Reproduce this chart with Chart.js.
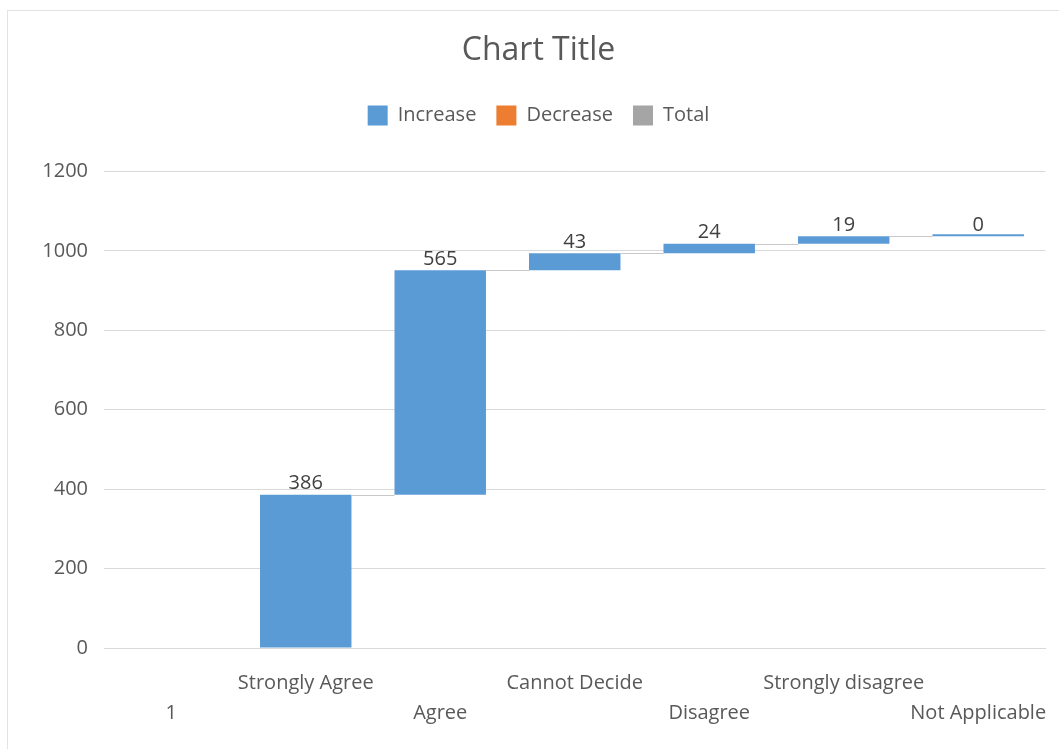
<!DOCTYPE html>
<html>
<head>
<meta charset="utf-8">
<script src="https://cdn.jsdelivr.net/npm/chart.js@4.4.1/dist/chart.umd.min.js"></script>
<style>
  html, body { margin: 0; padding: 0; background: #fff; }
  .frame { position: absolute; left: 7px; top: 10px; width: 1052px; height: 739px;
           border-left: 1px solid #e3e3e3; border-top: 1px solid #e3e3e3; }
  canvas { position: absolute; left: 0; top: 0; }
</style>
</head>
<body>
<div class="frame"></div>
<canvas id="chart" width="1059" height="749"></canvas>
<script>
// waterfall data
const categories = ['1', 'Strongly Agree', 'Agree', 'Cannot Decide', 'Disagree', 'Strongly disagree', 'Not Applicable'];
const increases = [null, 386, 565, 43, 24, 19, 0];
const yTicks = [0, 200, 400, 600, 800, 1000, 1200];

const BLUE = '#5b9bd5';
const ORANGE = '#ed7d31';
const GREY = '#a5a5a5';
const TEXT = '#595959';
const FONT = "'Open Sans', sans-serif";

// floating bars from running total
let running = 0;
const floating = increases.map(v => {
  if (v === null) return null;
  const start = running;
  running += v;
  return [start, running];
});

const waterfallExtras = {
  id: 'waterfallExtras',
  beforeInit(chart) {
    // extra gap under the legend, like excel
    const fit = chart.legend.fit;
    chart.legend.fit = function () {
      fit.call(this);
      this.height += 36;
    };
  },
  afterDatasetsDraw(chart) {
    const ctx = chart.ctx;
    const meta = chart.getDatasetMeta(0);
    const y = chart.scales.y;
    ctx.save();
    // connectors
    ctx.strokeStyle = '#c8c8c8';
    ctx.lineWidth = 1;
    for (let i = 0; i < floating.length - 1; i++) {
      if (!floating[i] || !floating[i + 1]) continue;
      const a = meta.data[i], b = meta.data[i + 1];
      const yy = Math.round(y.getPixelForValue(floating[i][1])) + 0.5;
      ctx.beginPath();
      ctx.moveTo(a.x + a.width / 2, yy);
      ctx.lineTo(b.x - b.width / 2, yy);
      ctx.stroke();
    }
    // value labels
    ctx.fillStyle = '#404040';
    ctx.font = '20px ' + FONT;
    ctx.textAlign = 'center';
    ctx.textBaseline = 'bottom';
    increases.forEach((v, i) => {
      if (v === null) return;
      const top = y.getPixelForValue(floating[i][1]);
      ctx.fillText(String(v), meta.data[i].x, top - 1);
    });
    ctx.restore();
  }
};

new Chart(document.getElementById('chart'), {
  type: 'bar',
  data: {
    labels: categories,
    datasets: [
      { label: 'Increase', data: floating, backgroundColor: BLUE, minBarLength: 2 },
      { label: 'Decrease', data: categories.map(() => null), backgroundColor: ORANGE },
      { label: 'Total', data: categories.map(() => null), backgroundColor: GREY }
    ]
  },
  options: {
    responsive: false,
    animation: false,
    layout: { padding: { left: 30, right: 12, top: 0, bottom: 9 } },
    datasets: { bar: { grouped: false, barPercentage: 0.68, categoryPercentage: 1 } },
    plugins: {
      title: {
        display: true, text: 'Chart Title', color: TEXT,
        font: { family: FONT, size: 32, weight: 'normal' },
        padding: { top: 32, bottom: 15 }
      },
      legend: {
        position: 'top',
        labels: {
          color: TEXT, boxWidth: 20, boxHeight: 20, padding: 20,
          font: { family: FONT, size: 20 }
        }
      },
      tooltip: { enabled: false }
    },
    scales: {
      x: {
        grid: { display: false },
        border: { color: '#d9d9d9' },
        ticks: {
          color: TEXT, maxRotation: 0, autoSkip: false, padding: 12,
          font: { family: FONT, size: 20, lineHeight: 1.5 },
          callback: (v, i) => i % 2 === 1 ? [categories[i], ''] : ['', categories[i]]
        }
      },
      y: {
        min: 0, max: 1200,
        afterBuildTicks: s => { s.ticks = yTicks.map(v => ({ value: v })); },
        afterFit: s => { s.width = 74; },
        grid: { color: '#d9d9d9', drawTicks: false },
        border: { display: false },
        ticks: {
          color: TEXT, padding: 16, font: { family: FONT, size: 20 },
          callback: v => String(v)
        }
      }
    }
  },
  plugins: [waterfallExtras]
});
</script>
</body>
</html>
